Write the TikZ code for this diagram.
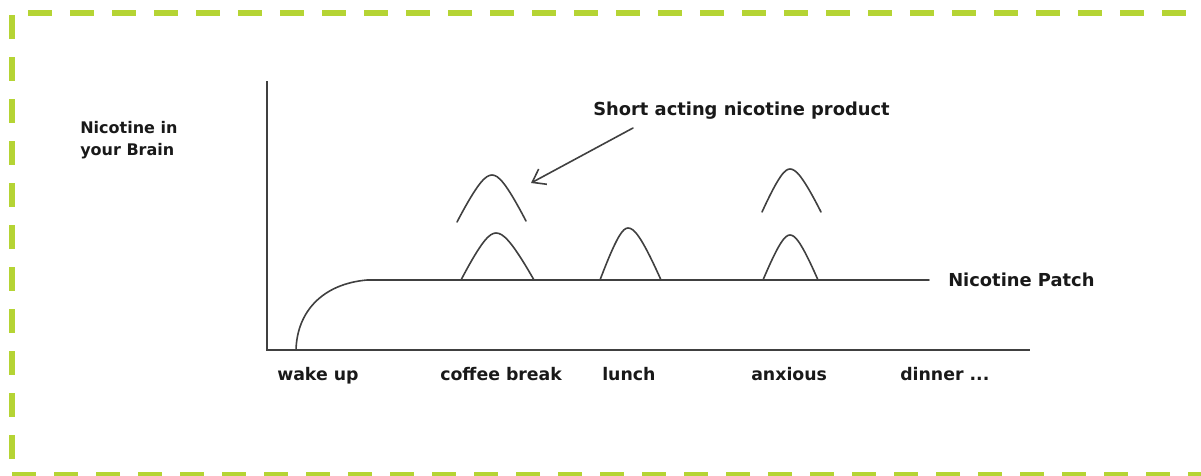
\documentclass[tikz,border=0pt]{standalone}
\usepackage{fontspec}
\setmainfont{DejaVu Sans}
\usetikzlibrary{arrows.meta}
\definecolor{framegreen}{RGB}{181,212,52}

\tikzset{
  axisline/.style={draw=black!75, line width=1.3pt},
  curveline/.style={draw=black!75, line width=1.2pt, line cap=round},
  framedash/.style={draw=framegreen, line width=4.5pt, dash pattern=on 18pt off 13.5pt},
  lbl/.style={font=\fontsize{13}{16}\selectfont\bfseries, inner sep=0pt, anchor=base west, text=black!90},
}

% one short acting dose: left end, top, right end
\newcommand{\bumpcurve}[6]{%
  \draw[curveline] (#1,#2) .. controls ({#1+0.6*(#3-#1)},{#2+0.85*(#4-#2)}) and ({#3-0.18*(#3-#1)},#4) .. (#3,#4)
    .. controls ({#3+0.18*(#5-#3)},#4) and ({#5-0.6*(#5-#3)},{#6+0.85*(#4-#6)}) .. (#5,#6);}

\begin{document}
\begin{tikzpicture}[x=0.75pt,y=-0.75pt]
  \useasboundingbox (0,0) rectangle (1201,475);

  % frame
  \draw[framedash] (28,13) -- (1201,13);
  \draw[framedash] (12,15) -- (12,475);
  \draw[framedash] (12,475) -- (1201,475);

  % axes
  \coordinate (ytop) at (267,81);
  \coordinate (origin) at (267,350);
  \coordinate (xend) at (1030,350);
  \draw[axisline] (ytop) -- (origin) -- (xend);

  \node[lbl, align=left, anchor=north west, font=\fontsize{12}{16.5}\selectfont\bfseries] (brain) at (80,121) {Nicotine in\\your Brain};

  % patch level
  \node[lbl, anchor=west, inner xsep=14.25pt, font=\fontsize{13.4}{16}\selectfont\bfseries] (patch) at (929,280) {Nicotine Patch};
  \coordinate (wake) at (296,350);
  \coordinate (level) at (367,280);
  \draw[curveline] (wake) .. controls (297,312) and (322,284) .. (level) -- (patch.west);

  % doses
  \bumpcurve{461}{280}{496}{233}{534}{280}
  \bumpcurve{457}{222}{492}{175}{526}{221}
  \bumpcurve{600}{280}{628}{228}{661}{280}
  \bumpcurve{763}{280}{790}{235}{818}{280}
  \bumpcurve{762}{212}{790}{169}{821}{212}

  \node[lbl, font=\fontsize{13.4}{16}\selectfont\bfseries] (shortact) at (593,115) {Short acting nicotine product};
  \coordinate (tail) at (633,128);
  \coordinate (tip) at (531,183);
  \draw[curveline, -{Straight Barb[length=9pt,width=13pt]}] (tail) -- (tip);

  % times of day
  \node[lbl] (wakeup) at (277,380) {wake up};
  \node[lbl] (coffee) at (440,380) {coffee break};
  \node[lbl] (lunch) at (602,380) {lunch};
  \node[lbl] (anxious) at (751,380) {anxious};
  \node[lbl] (dinner) at (900,380) {dinner ...};
\end{tikzpicture}
\end{document}
